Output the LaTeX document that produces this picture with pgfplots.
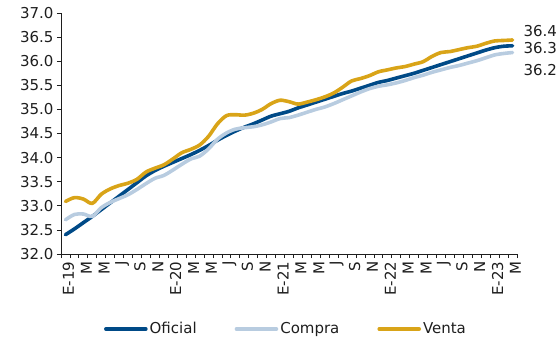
\documentclass[border=0pt]{standalone}
\usepackage{pgfplots}
\pgfplotsset{compat=1.18}
\usepackage{pgfplotstable}
\usepackage{fontspec}
\setmainfont{DejaVu Sans}

\definecolor{oficial}{HTML}{004A87}
\definecolor{compra}{HTML}{B8CCE0}
\definecolor{venta}{HTML}{D9A418}
\definecolor{texto}{HTML}{1E1E1E}
\newcommand\fs{\fontsize{15}{18}\selectfont}

% Monthly exchange rates, Jan 2019 (m = 0) to Mar 2023 (m = 50)
\pgfplotstableread{
m  oficial compra venta
0  32.40 32.71 33.09
1  32.52 32.82 33.17
2  32.65 32.83 33.14
3  32.78 32.78 33.05
4  32.92 32.96 33.24
5  33.06 33.07 33.35
6  33.20 33.15 33.42
7  33.34 33.23 33.47
8  33.48 33.34 33.55
9  33.62 33.46 33.70
10 33.73 33.57 33.78
11 33.82 33.63 33.85
12 33.90 33.74 33.97
13 33.98 33.86 34.10
14 34.06 33.97 34.17
15 34.15 34.03 34.26
16 34.25 34.18 34.44
17 34.36 34.38 34.70
18 34.46 34.51 34.87
19 34.55 34.59 34.89
20 34.63 34.62 34.88
21 34.70 34.64 34.92
22 34.78 34.68 35.00
23 34.86 34.74 35.12
24 34.91 34.81 35.19
25 34.96 34.83 35.16
26 35.03 34.88 35.11
27 35.09 34.94 35.15
28 35.15 35.00 35.20
29 35.21 35.05 35.26
30 35.27 35.12 35.34
31 35.33 35.20 35.46
32 35.38 35.28 35.59
33 35.44 35.36 35.64
34 35.50 35.43 35.70
35 35.56 35.48 35.78
36 35.60 35.51 35.82
37 35.65 35.55 35.86
38 35.70 35.60 35.89
39 35.75 35.66 35.94
40 35.81 35.71 35.99
41 35.87 35.77 36.10
42 35.93 35.82 36.18
43 35.99 35.87 36.20
44 36.05 35.91 36.24
45 36.11 35.96 36.28
46 36.17 36.01 36.31
47 36.23 36.07 36.37
48 36.28 36.13 36.42
49 36.31 36.16 36.43
50 36.32 36.18 36.44
}\datos

\begin{document}
\begin{tikzpicture}
\begin{axis}[
  scale only axis,
  width=456pt, height=241pt,
  xmin=-0.5, xmax=50.5,
  ymin=32, ymax=37,
  axis lines*=left,
  axis line style={texto, line width=0.8pt, -},
  clip=false,
  tick align=outside,
  ytick={32,32.5,...,37},
  major tick length=4pt,
  minor tick length=4pt,
  tick style={texto, line width=0.8pt},
  major x tick style={draw=none},
  xtick={0,2,...,50},
  minor xtick={-0.5,0.5,...,50.5},
  xticklabels={E-19,M,M,J,S,N,E-20,M,M,J,S,N,E-21,M,M,J,S,N,E-22,M,M,J,S,N,E-23,M},
  xticklabel style={rotate=90, anchor=east, yshift=-3pt, font=\fs, text=texto},
  yticklabel style={font=\fs, text=texto, /pgf/number format/.cd, fixed, fixed zerofill, precision=1},
  /pgf/number format/assume math mode=true,
  legend columns=3,
  legend style={draw=none, fill=none, font=\fs, text=texto,
    at={(0.5,0)}, anchor=center, yshift=-75pt, xshift=-3pt,
    /tikz/every even column/.append style={column sep=36pt}},
  legend image code/.code={\draw[#1] (0pt,0pt) -- (40pt,0pt);},
  every axis plot/.append style={line width=3.6pt, smooth, tension=0.5, line cap=round, line join=round},
]
\coordinate (sw) at (rel axis cs:0,0);
\addplot[oficial] table[x=m, y=oficial] {\datos};
\addlegendentry{Oficial}
\addplot[compra] table[x=m, y=compra] {\datos};
\addlegendentry{Compra}
\addplot[venta] table[x=m, y=venta] {\datos};
\addlegendentry{Venta}
\node[anchor=west, font=\fs, text=texto, xshift=3pt] at (axis cs:50.5,36.63) {36.4};
\node[anchor=west, font=\fs, text=texto, xshift=3pt] at (axis cs:50.5,36.27) {36.3};
\node[anchor=west, font=\fs, text=texto, xshift=3pt] at (axis cs:50.5,35.82) {36.2};
\end{axis}
\pgfresetboundingbox
\path[use as bounding box] (sw) ++(-61pt,-84pt) rectangle ++(558pt,338pt);
\end{tikzpicture}
\end{document}
